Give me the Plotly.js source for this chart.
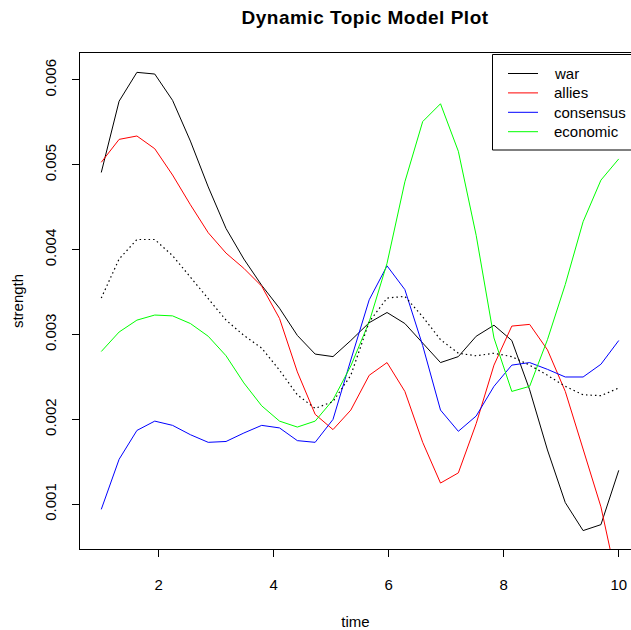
<!DOCTYPE html>
<html>
<head>
<meta charset="utf-8">
<script src="https://cdn.plot.ly/plotly-3.0.1.min.js"></script>
<style>html,body{margin:0;padding:0;background:#fff;}#chart{width:631px;height:630px;}
.gtitle{letter-spacing:0.5px;}</style>
</head>
<body>
<div id="chart"></div>
<script>
const time = [1, 1.31, 1.62, 1.93, 2.24, 2.55, 2.86, 3.17, 3.48, 3.79, 4.10, 4.41, 4.72, 5.03, 5.34,
              5.66, 5.97, 6.28, 6.59, 6.90, 7.21, 7.52, 7.83, 8.14, 8.45, 8.76, 9.07, 9.38, 9.69, 10];
const war = [0.00491, 0.00575, 0.00609, 0.00607, 0.00576, 0.00528, 0.00474, 0.00425, 0.00389, 0.00358,
             0.00331, 0.00299, 0.00277, 0.00274, 0.00293, 0.00314, 0.00326, 0.00313, 0.00290, 0.00267,
             0.00274, 0.00298, 0.00311, 0.00293, 0.00235, 0.00164, 0.00102, 0.00069, 0.00076, 0.00140];
const allies = [0.00503, 0.00530, 0.00534, 0.00519, 0.00488, 0.00453, 0.00420, 0.00396, 0.00378, 0.00357,
                0.00319, 0.00256, 0.00206, 0.00188, 0.00211, 0.00252, 0.00267, 0.00233, 0.00173, 0.00125,
                0.00137, 0.00195, 0.00264, 0.00310, 0.00312, 0.00282, 0.00233, 0.00164, 0.00097, 0.00000];
const consensus = [0.00094, 0.00153, 0.00187, 0.00198, 0.00193, 0.00182, 0.00173, 0.00174, 0.00184, 0.00193,
                   0.00190, 0.00175, 0.00173, 0.00200, 0.00270, 0.00341, 0.00381, 0.00353, 0.00287, 0.00211,
                   0.00186, 0.00204, 0.00239, 0.00264, 0.00267, 0.00259, 0.00250, 0.00250, 0.00265, 0.00293];
const economic = [0.00280, 0.00303, 0.00317, 0.00323, 0.00322, 0.00313, 0.00298, 0.00275, 0.00243, 0.00216,
                  0.00198, 0.00191, 0.00198, 0.00223, 0.00263, 0.00315, 0.00384, 0.00480, 0.00551, 0.00572,
                  0.00516, 0.00417, 0.00296, 0.00233, 0.00239, 0.00294, 0.00359, 0.00433, 0.00482, 0.00507];
const overall = [0.00343, 0.00389, 0.00412, 0.00412, 0.00393, 0.00368, 0.00343, 0.00317, 0.00299, 0.00284,
                 0.00258, 0.00229, 0.00213, 0.00221, 0.00252, 0.00315, 0.00343, 0.00345, 0.00321, 0.00294,
                 0.00278, 0.00275, 0.00278, 0.00274, 0.00264, 0.00252, 0.00239, 0.00229, 0.00228, 0.00237];
const seriesNames = ["war", "allies", "consensus", "economic"];
const seriesColors = ["#000000", "#ff0000", "#0000ff", "#00ff00"];
const seriesValues = [war, allies, consensus, economic];
const xTicks = [2, 4, 6, 8, 10];
const yTicks = [0.001, 0.002, 0.003, 0.004, 0.005, 0.006];

const FONT = "Liberation Sans, Arial, sans-serif";
const W = 631, H = 630, ML = 80, MR = 0, MT = 53, MB = 81;
const PW = W - ML - MR, PH = H - MT - MB;
const px = v => (v - ML) / PW;          // pixel -> paper x
const py = v => (H - MB - v) / PH;      // pixel -> paper y

const traces = seriesNames.map((n, i) => ({
  x: time, y: seriesValues[i], name: n, type: "scatter", mode: "lines",
  line: {color: seriesColors[i], width: 1}
}));
traces.push({x: time, y: overall, name: "overall", type: "scatter", mode: "lines",
  line: {color: "#000000", width: 1.2, dash: "1.5px,3px"}});

// legend drawn R-style (box, line samples, labels)
const shapes = [{type: "rect", xref: "paper", yref: "paper", x0: px(492.5), x1: px(660), y0: py(150), y1: py(54.5),
                 line: {color: "#000", width: 1}, fillcolor: "#fff", layer: "above"}];
const annotations = [];
seriesNames.forEach((n, i) => {
  const rowY = 73.5 + i * 19.4;
  shapes.push({type: "line", xref: "paper", yref: "paper", x0: px(508), x1: px(538), y0: py(rowY), y1: py(rowY),
               line: {color: seriesColors[i], width: 1}, layer: "above"});
  annotations.push({xref: "paper", yref: "paper", x: px(552), y: py(rowY), xanchor: "left", yanchor: "middle",
                    text: n, showarrow: false, font: {family: FONT, size: 15, color: "#000"}});
});

const layout = {
  width: W, height: H,
  margin: {l: ML, r: MR, t: MT, b: MB},
  paper_bgcolor: "#fff", plot_bgcolor: "#fff",
  showlegend: false,
  font: {family: FONT, size: 15, color: "#000"},
  title: {text: "<b>Dynamic Topic Model Plot</b>", x: 0.5785, xanchor: "center", y: 0.9725, yanchor: "middle",
          font: {family: FONT, size: 19, color: "#000"}},
  xaxis: {range: [0.63, 10.213], tickvals: xTicks, ticktext: xTicks.map(String),
          showgrid: false, zeroline: false, showline: true, mirror: true, linecolor: "#000", linewidth: 1,
          ticks: "outside", ticklen: 7, tickcolor: "#000", ticklabelstandoff: 15,
          title: {text: "time", standoff: 26, font: {family: FONT, size: 15}}},
  yaxis: {range: [0.000473, 0.006318], tickvals: yTicks, ticktext: yTicks.map(v => v.toFixed(3)),
          showgrid: false, zeroline: false, showline: true, mirror: false, linecolor: "#000", linewidth: 1,
          ticks: "outside", ticklen: 7, tickcolor: "#000", tickangle: -90, ticklabelstandoff: 10,
          title: {text: "strength", standoff: 14, font: {family: FONT, size: 15}}},
  shapes: shapes,
  annotations: annotations
};
Plotly.newPlot("chart", traces, layout, {displayModeBar: false, staticPlot: true});
</script>
</body>
</html>
